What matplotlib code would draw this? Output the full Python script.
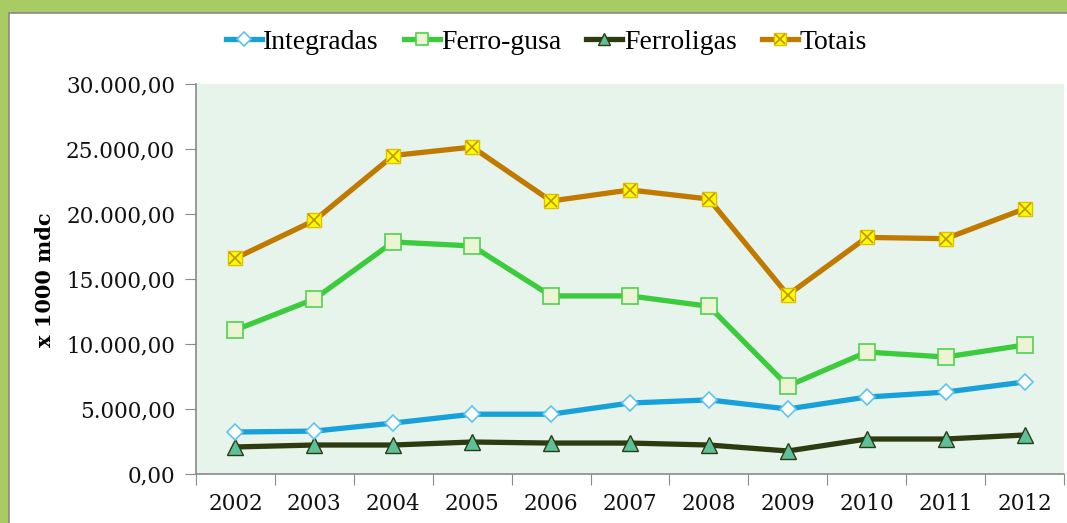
import matplotlib.pyplot as plt
import matplotlib.patches as patches
import matplotlib.ticker as ticker
from matplotlib.legend_handler import HandlerTuple
import numpy as np

years = ["2002", "2003", "2004", "2005", "2006", "2007", "2008", "2009", "2010", "2011", "2012"]
integradas = [3230, 3300, 3920, 4600, 4600, 5460, 5700, 5000, 5920, 6300, 7080]
ferro_gusa = [11080, 13460, 17850, 17540, 13700, 13700, 12900, 6770, 9380, 9000, 9920]
ferroligas = [2080, 2230, 2230, 2460, 2380, 2380, 2230, 1770, 2690, 2690, 3000]
totais = [16600, 19500, 24500, 25150, 21000, 21850, 21150, 13770, 18200, 18100, 20400]

W, H = 1067, 523
fig = plt.figure(figsize=(W / 100, H / 100), dpi=100)
fig.patch.set_facecolor("#a8cb64")

# white slide panel behind everything (runs off the right and bottom edges)
fig.patches.append(patches.Rectangle((9 / W, -0.05), 1.1, 1.05 - 13 / H,
                                     transform=fig.transFigure, facecolor="white",
                                     edgecolor="#8a8a8a", linewidth=1.2, zorder=-5))

ax = fig.add_axes([196 / W, 1 - 474 / H, (1064 - 196) / W, (474 - 84) / H])
ax.set_facecolor("#e6f4ec")
x = np.arange(len(years))

l_fl, = ax.plot(x, ferroligas, color="#2e3b10", lw=3.8, marker="^", ms=11,
                mfc="#5dc09a", mec="#2e3b10", mew=1, zorder=3)
l_in, = ax.plot(x, integradas, color="#17a0da", lw=3.8, marker="D", ms=8.5,
                mfc="white", mec="#5fc3ef", mew=1.2, zorder=4)
l_fg, = ax.plot(x, ferro_gusa, color="#3ccb3c", lw=3.8, marker="s", ms=11,
                mfc="#ebf5d3", mec="#4fd04f", mew=1.2, zorder=4)
l_to, = ax.plot(x, totais, color="#c07a00", lw=3.8, marker="s", ms=10,
                mfc="#ffff00", mec="#e0c000", mew=1, zorder=4)
l_tx, = ax.plot(x, totais, ls="none", marker="x", ms=9, mec="#c89000", mew=1.2, zorder=5)

ax.set_xlim(-0.5, len(years) - 0.5)
ax.set_ylim(0, 30000)
ax.yaxis.set_major_locator(ticker.MultipleLocator(5000))
ax.yaxis.set_major_formatter(ticker.FuncFormatter(
    lambda v, p: "{:,.2f}".format(v).replace(",", "X").replace(".", ",").replace("X", ".")))

ax.set_xticks(np.arange(-0.5, len(years), 1))
ax.set_xticklabels([])
ax.set_xticks(x, minor=True)
ax.set_xticklabels(years, minor=True)
ax.tick_params(axis="x", which="major", length=8, color="#8a8a8a", direction="out")
ax.tick_params(axis="x", which="minor", length=0, pad=14)
ax.tick_params(axis="y", length=8, color="#8a8a8a", direction="out", pad=7)
for lab in ax.get_yticklabels() + ax.get_xticklabels(minor=True):
    lab.set_fontfamily("DejaVu Serif")
    lab.set_fontsize(15.5)
    lab.set_color("#111111")

for s in ["top", "right"]:
    ax.spines[s].set_visible(False)
for s in ["left", "bottom"]:
    ax.spines[s].set_color("#8a8a8a")
    ax.spines[s].set_linewidth(1.2)

fig.text(45 / W, 1 - 280 / H, "x 1000 mdc", rotation=90, ha="center", va="center",
         fontfamily="DejaVu Serif", fontweight="bold", fontsize=15)

fig.legend([l_in, l_fg, l_fl, (l_to, l_tx)],
           ["Integradas", "Ferro-gusa", "Ferroligas", "Totais"],
           handler_map={tuple: HandlerTuple(ndivide=1, pad=0)},
           loc="center", bbox_to_anchor=(546 / W, 1 - 42 / H), ncol=4, frameon=False,
           prop={"family": "Liberation Serif", "size": 20}, handlelength=1.3,
           handletextpad=0.05, columnspacing=0.9, markerscale=0.8)

fig.savefig("out.png", dpi=100, facecolor=fig.get_facecolor())
